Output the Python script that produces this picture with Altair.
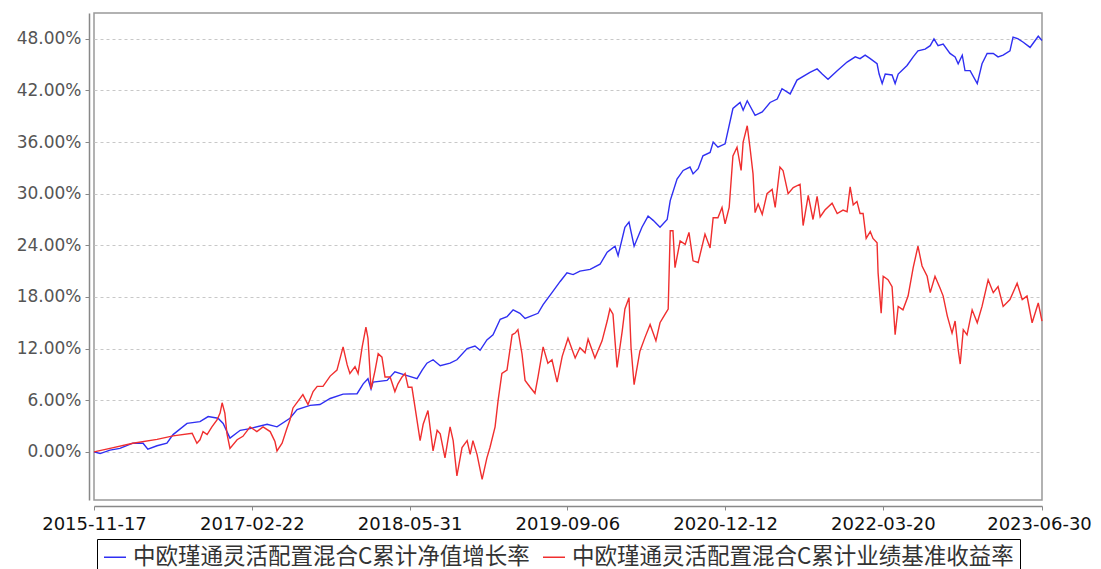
import pandas as pd
import altair as alt

alt.data_transformers.disable_max_rows()

START = pd.Timestamp("2015-11-17")

NAV_NAME = "中欧瑾通灵活配置混合C累计净值增长率"
BENCH_NAME = "中欧瑾通灵活配置混合C累计业绩基准收益率"

TICK_DATES = [(2015, 11, 17), (2017, 2, 22), (2018, 5, 31), (2019, 9, 6),
              (2020, 12, 12), (2022, 3, 20), (2023, 6, 30)]
Y_TICKS = [0, 6, 12, 18, 24, 30, 36, 42, 48]

# days since 2015-11-17 and cumulative return (%)
NAV_DAYS = [
    0, 18, 47, 76, 114, 144, 158, 185, 214, 232,
    273, 311, 335, 364, 379, 399, 429, 458, 508, 537,
    575, 596, 634, 663, 693, 731, 772, 790, 804, 813,
    819, 860, 883, 907, 948, 963, 977, 995, 1016, 1045,
    1065, 1095, 1118, 1133, 1153, 1171, 1192, 1212, 1230, 1250,
    1265, 1303, 1318, 1344, 1368, 1388, 1406, 1426, 1456, 1485,
    1506, 1529, 1538, 1558, 1570, 1585, 1608, 1626, 1641, 1661,
    1682, 1691, 1711, 1729, 1749, 1758, 1773, 1787, 1808, 1817,
    1831, 1852, 1875, 1896, 1905, 1917, 1940, 1961, 1984, 2005,
    2019, 2043, 2063, 2101, 2122, 2137, 2154, 2181, 2210, 2234,
    2248, 2263, 2278, 2298, 2304, 2313, 2322, 2342, 2351, 2360,
    2386, 2404, 2418, 2439, 2454, 2465, 2477, 2492, 2512, 2527,
    2536, 2548, 2556, 2571, 2592, 2606, 2621, 2639, 2653, 2668,
    2688, 2697, 2712, 2727, 2747, 2771, 2782,
]
NAV_PCT = [
    0.0, -0.2, 0.2, 0.4, 1.0, 1.0, 0.3, 0.7, 1.0, 2.0,
    3.3, 3.5, 4.1, 3.9, 3.3, 1.6, 2.5, 2.7, 3.2, 2.9,
    3.9, 4.9, 5.4, 5.5, 6.2, 6.7, 6.75, 7.9, 8.5, 7.3,
    8.1, 8.3, 9.3, 9.0, 8.5, 9.5, 10.3, 10.7, 10.0, 10.3,
    10.7, 12.0, 12.3, 11.8, 13.0, 13.6, 15.4, 15.7, 16.5, 16.1,
    15.5, 16.1, 17.1, 18.5, 19.8, 20.8, 20.6, 21.0, 21.2, 21.8,
    23.2, 23.9, 22.8, 26.1, 26.7, 23.9, 26.1, 27.4, 26.9, 26.1,
    27.0, 29.2, 31.7, 32.7, 33.1, 32.3, 32.9, 34.4, 34.8, 36.0,
    35.4, 35.8, 39.9, 40.6, 39.7, 40.8, 39.1, 39.5, 40.6, 41.0,
    42.2, 41.6, 43.2, 44.1, 44.5, 43.9, 43.3, 44.3, 45.3, 45.9,
    45.7, 46.1, 45.7, 45.1, 43.9, 42.8, 43.9, 43.8, 42.8, 43.9,
    44.9, 45.9, 46.6, 46.8, 47.2, 48.0, 47.2, 47.4, 46.3, 45.9,
    45.1, 46.1, 44.3, 44.3, 42.8, 45.1, 46.3, 46.3, 45.9, 46.1,
    46.6, 48.2, 48.0, 47.6, 47.0, 48.3, 47.8,
]

BENCH_DAYS = [
    0, 47, 114, 185, 232, 288, 302, 311, 320, 332,
    346, 361, 370, 376, 384, 390, 399, 420, 437, 458,
    478, 496, 517, 531, 537, 552, 566, 575, 584, 613,
    628, 643, 655, 672, 693, 713, 731, 743, 751, 766,
    775, 787, 798, 804, 813, 825, 834, 845, 854, 869,
    883, 892, 904, 913, 922, 933, 942, 957, 966, 980,
    995, 1007, 1016, 1030, 1045, 1054, 1065, 1080, 1095, 1104,
    1112, 1124, 1139, 1153, 1162, 1177, 1186, 1197, 1212, 1227,
    1236, 1244, 1256, 1265, 1280, 1294, 1303, 1318, 1332, 1344,
    1359, 1374, 1391, 1412, 1426, 1441, 1450, 1470, 1491, 1506,
    1514, 1523, 1535, 1550, 1558, 1570, 1576, 1585, 1602, 1617,
    1632, 1649, 1661, 1676, 1685, 1691, 1699, 1705, 1720, 1735,
    1746, 1758, 1773, 1793, 1808, 1817, 1831, 1843, 1852, 1864,
    1875, 1887, 1899, 1905, 1917, 1925, 1934, 1940, 1949, 1961,
    1975, 1990, 1999, 2013, 2022, 2037, 2052, 2072, 2081, 2096,
    2110, 2122, 2131, 2145, 2166, 2181, 2198, 2210, 2219, 2228,
    2239, 2248, 2257, 2266, 2278, 2286, 2298, 2301, 2310, 2316,
    2330, 2342, 2351, 2360, 2374, 2389, 2404, 2418, 2430, 2445,
    2454, 2468, 2483, 2492, 2504, 2518, 2527, 2536, 2542, 2551,
    2562, 2577, 2592, 2606, 2624, 2639, 2653, 2668, 2688, 2709,
    2724, 2738, 2753, 2771, 2782,
]
BENCH_PCT = [
    0.0, 0.4, 1.0, 1.45, 1.85, 2.15, 1.0, 1.4, 2.35, 2.0,
    2.9, 3.7, 4.5, 5.7, 4.5, 2.15, 0.4, 1.4, 1.8, 2.9,
    2.35, 2.9, 2.35, 1.2, 0.1, 1.0, 2.7, 3.7, 5.1, 6.65,
    5.5, 7.0, 7.6, 7.6, 8.8, 9.5, 12.2, 10.1, 9.1, 9.9,
    9.1, 12.2, 14.5, 13.2, 7.3, 9.5, 11.4, 11.0, 8.7, 8.7,
    7.0, 7.9, 8.7, 9.1, 7.5, 7.5, 5.2, 1.3, 3.2, 4.8,
    0.1, 2.5, 2.1, -0.7, 2.9, 1.3, -2.8, 0.5, 1.3, -0.3,
    1.3, -0.3, -3.2, -0.7, 0.5, 2.9, 6.0, 9.1, 9.5, 13.6,
    13.8, 14.2, 11.4, 8.3, 7.5, 6.8, 8.7, 12.2, 10.3, 10.7,
    8.1, 11.1, 13.2, 10.9, 12.1, 11.5, 13.1, 10.9, 12.9, 15.2,
    16.6, 16.0, 9.8, 14.0, 16.6, 17.9, 12.1, 7.8, 11.7, 13.3,
    14.8, 12.9, 15.0, 16.0, 16.6, 25.7, 25.7, 21.4, 24.5, 24.1,
    25.5, 22.2, 22.0, 25.3, 23.7, 27.2, 27.2, 28.4, 26.5, 28.4,
    34.4, 35.4, 32.7, 36.0, 37.9, 35.4, 32.3, 27.8, 28.8, 27.6,
    30.0, 30.5, 28.4, 33.1, 32.7, 30.0, 30.7, 31.1, 26.3, 29.8,
    27.0, 29.7, 27.3, 28.1, 28.9, 27.7, 28.1, 27.9, 30.8, 28.7,
    29.1, 27.7, 27.7, 24.8, 25.6, 24.8, 24.3, 20.8, 16.1, 20.4,
    20.0, 19.2, 13.6, 16.9, 16.5, 18.1, 21.4, 23.9, 21.6, 20.4,
    18.5, 20.4, 19.0, 18.1, 15.8, 13.8, 15.2, 11.9, 10.2, 14.2,
    13.6, 16.5, 15.0, 16.9, 20.0, 18.5, 19.2, 16.9, 17.7, 19.6,
    17.7, 18.1, 15.0, 17.3, 15.2,
]


def series_frame(days, pct, name):
    return pd.DataFrame({
        "date": START + pd.to_timedelta(days, unit="D"),
        "pct": pct,
        "series": name,
    })


df = pd.concat([
    series_frame(NAV_DAYS, NAV_PCT, NAV_NAME),
    series_frame(BENCH_DAYS, BENCH_PCT, BENCH_NAME),
], ignore_index=True)

tick_values = [alt.DateTime(year=y, month=m, date=d) for y, m, d in TICK_DATES]

chart = (
    alt.Chart(df)
    .mark_line(strokeWidth=1.4)
    .encode(
        x=alt.X(
            "date:T",
            title=None,
            scale=alt.Scale(domain=[tick_values[0], tick_values[-1]]),
            axis=alt.Axis(
                values=tick_values,
                format="%Y-%m-%d",
                labelFont="DejaVu Sans",
                labelFontSize=18,
                labelColor="#111",
                labelPadding=5,
                labelOverlap=False,
                labelFlush=False,
                # last date label nudged so it stays inside the page
                labelOffset={"condition": {"test": "datum.index === 1", "value": -3}, "value": 0},
                grid=False,
                offset=6,
                tickSize=4,
                tickColor="#888",
                domainColor="#888",
                domainWidth=1.5,
            ),
        ),
        y=alt.Y(
            "pct:Q",
            title=None,
            scale=alt.Scale(domain=[-5.6, 51], nice=False, zero=False),
            axis=alt.Axis(
                values=Y_TICKS,
                labelExpr="format(datum.value, '.2f') + '%'",
                labelFont="DejaVu Sans",
                labelFontSize=17,
                labelColor="#555",
                labelPadding=4,
                grid=True,
                gridColor="#c8c8c8",
                gridDash=[3, 3],
                offset=5,
                tickSize=4,
                tickColor="#888",
                domainColor="#888",
                domainWidth=1.5,
            ),
        ),
        color=alt.Color(
            "series:N",
            scale=alt.Scale(domain=[NAV_NAME, BENCH_NAME], range=["#2f2ff2", "#f02e2e"]),
            legend=alt.Legend(
                title=None,
                orient="none",
                legendX=3,
                legendY=526,
                direction="horizontal",
                symbolType="stroke",
                symbolSize=484,
                symbolStrokeWidth=1.5,
                labelFont="Noto Sans CJK SC",
                labelFontSize=22.5,
                labelColor="#333",
                labelLimit=600,
                labelOffset=6,
                columnPadding=10,
                padding=6,
                strokeColor="black",
                fillColor="white",
            ),
        ),
    )
    .properties(
        width=948,
        height=487,
        autosize=alt.AutoSizeParams(type="none"),
        padding={"left": 86, "top": 5, "right": 51, "bottom": 69},
    )
    .configure_view(stroke="#999", strokeWidth=1.5)
)

chart.save("out.html", embed_options={"renderer": "svg", "actions": False})
